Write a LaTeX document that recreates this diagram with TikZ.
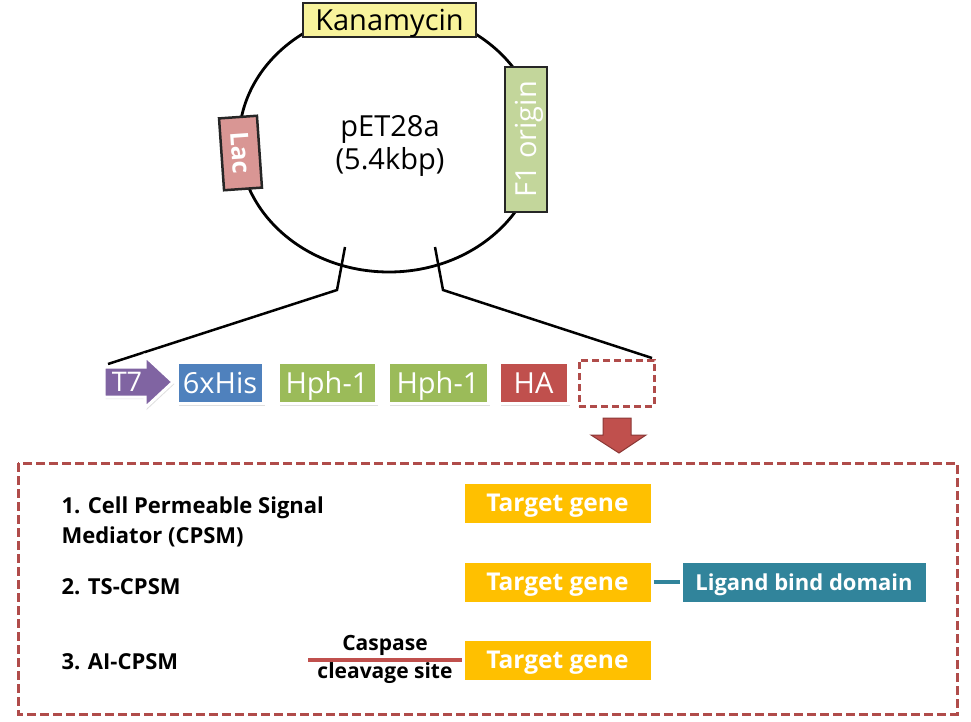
\documentclass[tikz,border=0pt]{standalone}
\usepackage{fontspec}
\setmainfont{Open Sans}
\usetikzlibrary{positioning,shadows}
\definecolor{kanayellow}{HTML}{F8F39C}
\definecolor{lacpink}{HTML}{D99694}
\definecolor{f1green}{HTML}{C3D69B}
\definecolor{t7purple}{HTML}{8064A2}
\definecolor{hisblue}{HTML}{4F81BD}
\definecolor{hphgreen}{HTML}{9BBB59}
\definecolor{hared}{HTML}{C0504D}
\definecolor{dashred}{HTML}{B04C4A}
\definecolor{arrowedge}{HTML}{8C3836}
\definecolor{targetyellow}{HTML}{FFC000}
\definecolor{ligandteal}{HTML}{31849B}

\begin{document}
\begin{tikzpicture}[x=1pt,y=-1pt,
		tag node/.style={draw=black!85,line width=2.5pt,inner sep=0pt,text height=20.5pt,text depth=0pt,
			font=\fontsize{29}{32}\selectfont},
		part node/.style={draw=white,line width=3pt,inner sep=0pt,minimum height=41pt,text=white,
			text height=20.5pt,text depth=0pt,font=\fontsize{29}{32}\selectfont,
			drop shadow={shadow xshift=1.5pt,shadow yshift=-2pt,opacity=0.25}},
		gene node/.style={part node,minimum height=42pt,text height=17.5pt,font=\bfseries\fontsize{24.5}{28}\selectfont},
		label node/.style={anchor=west,align=left,font=\bfseries\fontsize{22}{30}\selectfont}]
	\useasboundingbox (0,0) rectangle (971,722);

	% Plasmid
	\draw[line width=2.8pt] (389,141) ellipse [x radius=150, y radius=131];
	\node[tag node,fill=kanayellow,minimum width=173pt,minimum height=34pt] (kana) at (389.5,20) {Kanamycin};
	\node[tag node,fill=lacpink,minimum width=72pt,minimum height=38pt,rotate=-86,text=white,text height=18pt,
		font=\bfseries\fontsize{25}{28}\selectfont] (lac) at (240.5,153) {Lac};
	\node[tag node,fill=f1green,minimum width=145pt,minimum height=42pt,rotate=90,text=white] (f1) at (526,139.5) {F1 origin};
	\node[align=center,font=\fontsize{29}{33}\selectfont] (pet) at (390,146) {pET28a\\(5.4kbp)};

	% Opening of the plasmid
	\coordinate (tickLa) at (345,247);
	\coordinate (tickLb) at (337,290);
	\coordinate (tickRa) at (435,247);
	\coordinate (tickRb) at (443,290);
	\coordinate (openL) at (108,364);
	\coordinate (openR) at (652,358);
	\draw[line width=2.5pt] (tickLa) -- (tickLb) -- (openL);
	\draw[line width=2.5pt] (tickRa) -- (tickRb) -- (openR);

	% Insert
	\draw[draw=white,line width=3pt,fill=t7purple,drop shadow={shadow xshift=1.5pt,shadow yshift=-2pt,opacity=0.25}]
		(104,367) -- (145,367) -- (145,356) -- (173,382) -- (145,408) -- (145,397) -- (104,397) -- cycle;
	\node[text=white,text height=19pt,text depth=0pt,font=\fontsize{27}{30}\selectfont] (t7) at (127,382) {T7};
	\node[part node,fill=hisblue,minimum width=86pt] (his) at (220,383) {6xHis};
	\node[part node,fill=hphgreen,minimum width=98pt,right=12pt of his] (hph1) {Hph-1};
	\node[part node,fill=hphgreen,minimum width=100pt,right=9pt of hph1] (hph2) {Hph-1};
	\node[part node,fill=hared,minimum width=69pt,right=8pt of hph2] (ha) {HA};
	\node[draw=dashred,line width=3pt,dash pattern=on 7pt off 4pt,minimum width=75pt,minimum height=46pt,
		right=8pt of ha] (slot) {};
	\draw[draw=arrowedge,line width=1pt,fill=hared]
		(603,418) -- (631,418) -- (631,435) -- (646,435) -- (619,453) -- (591,435) -- (603,435) -- cycle;

	% Variants
	\draw[dashred,line width=3pt,dash pattern=on 9pt off 4pt] (18,463) rectangle (957,714);
	\node[label node] (cpsm) at (58,522) {1. Cell Permeable Signal\\Mediator (CPSM)};
	\node[label node] (ts) at (58,587) {2. TS-CPSM};
	\node[label node] (ai) at (58,662) {3. AI-CPSM};

	\node[gene node,fill=targetyellow,minimum width=189pt] (target1) at (557.5,503) {Target gene};
	\node[gene node,fill=targetyellow,minimum width=189pt,below=34pt of target1] (target2) {Target gene};
	\node[gene node,fill=targetyellow,minimum width=189pt,below=33pt of target2] (target3) {Target gene};
	\node[gene node,fill=ligandteal,minimum width=246pt,right=26pt of target2,text height=16pt,
		font=\bfseries\fontsize{22}{26}\selectfont] (ligand) {Ligand bind domain};

	\coordinate (caspL) at (308,660);
	\node[font=\bfseries\fontsize{21}{26}\selectfont] (casp) at (385,645) {Caspase};
	\node[font=\bfseries\fontsize{21}{26}\selectfont] (cleave) at (385,673) {cleavage site};

	% Edges
	\draw[ligandteal,line width=4pt] (target2) -- (ligand);
	\draw[hared,line width=4pt] (caspL) -- (target3);
\end{tikzpicture}
\end{document}
